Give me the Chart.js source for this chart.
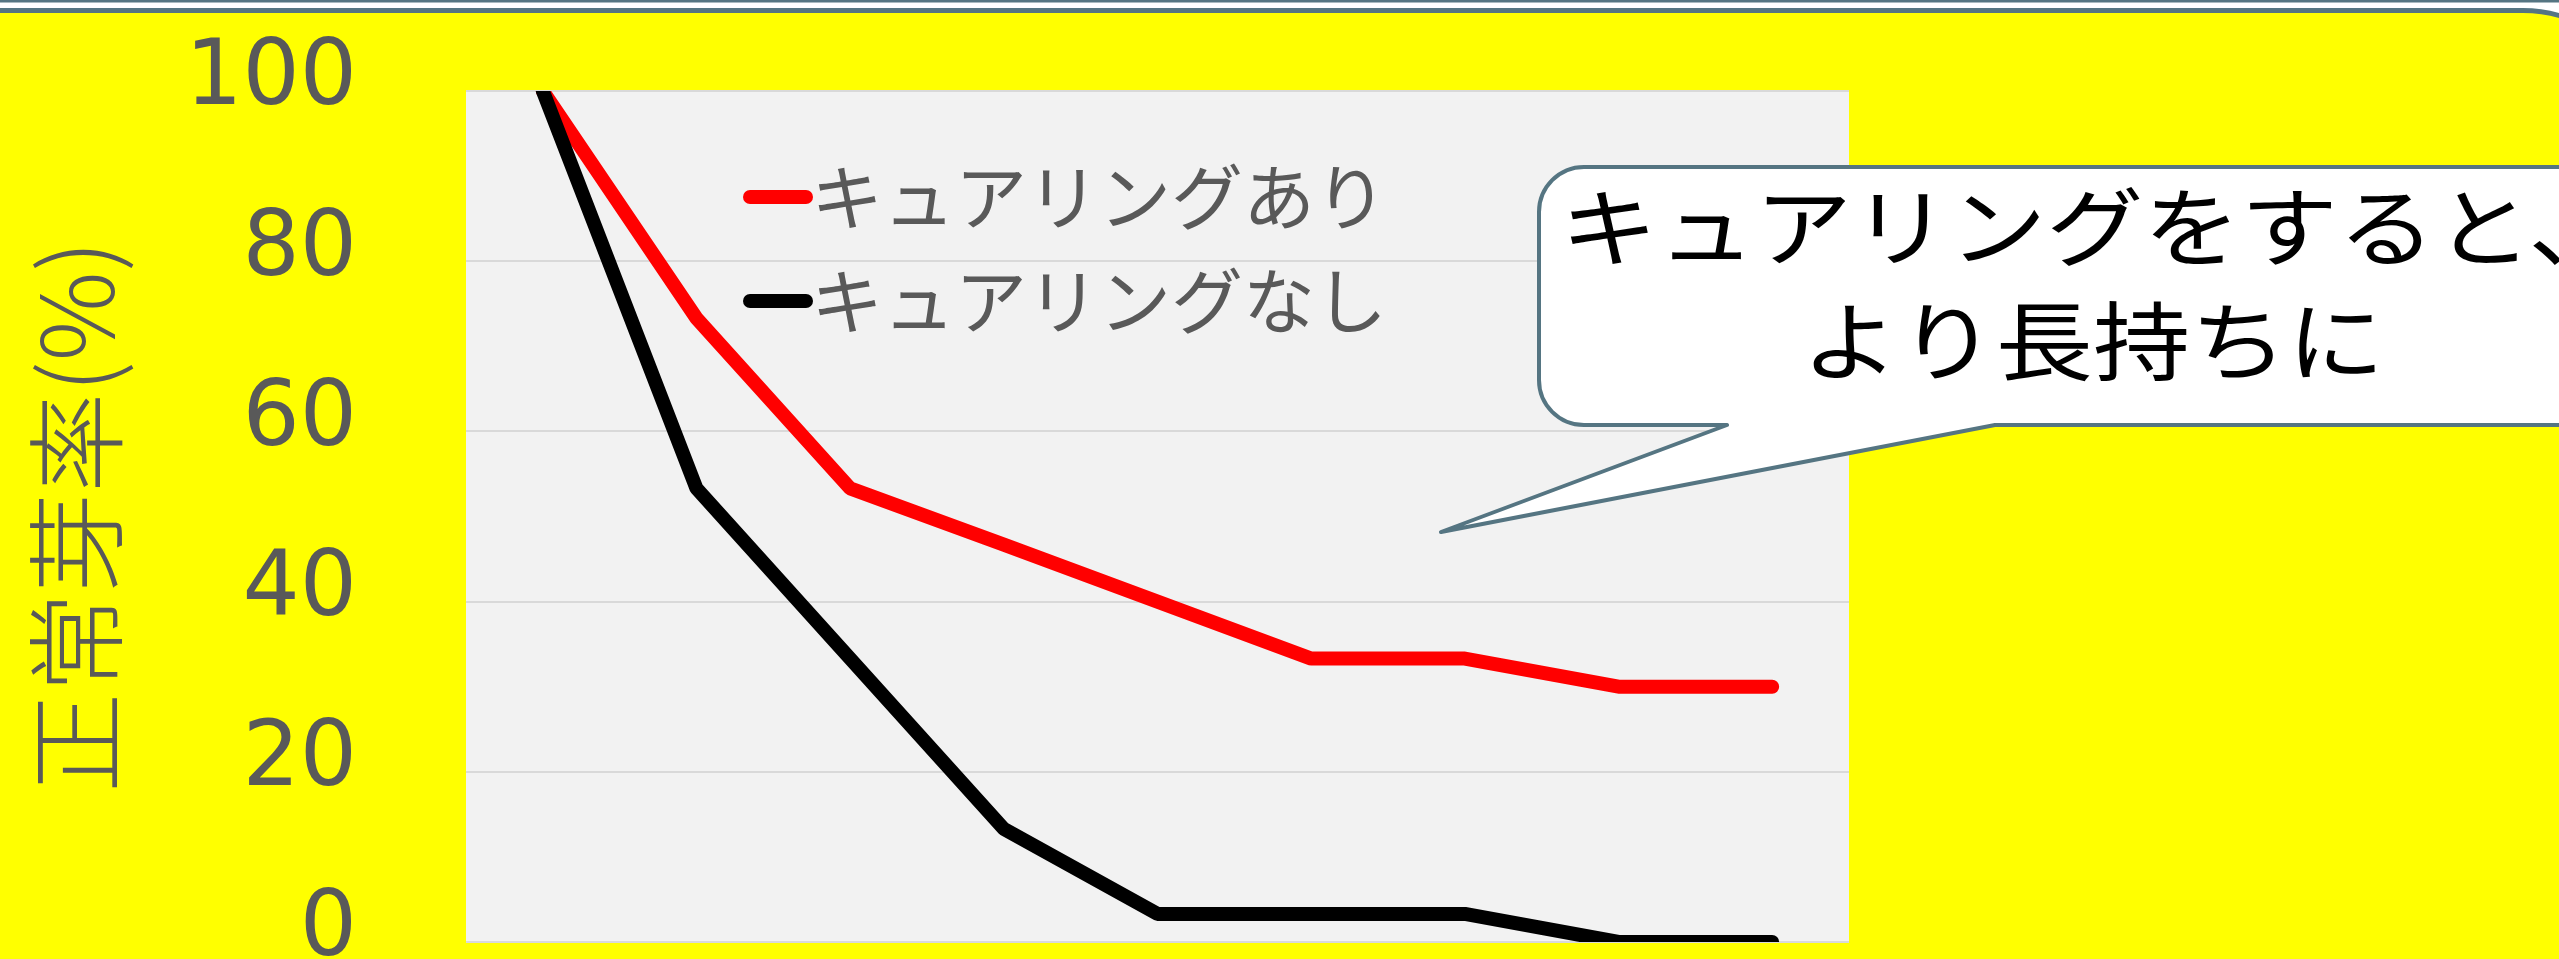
<!DOCTYPE html>
<html lang="ja">
<head>
<meta charset="utf-8">
<title>正常芽率</title>
<script src="https://cdn.jsdelivr.net/npm/chart.js"></script>
<style>
html, body { margin: 0; padding: 0; background: #ffffff; overflow: hidden; }
#wrap { width: 2559px; height: 959px; }
</style>
</head>
<body>
<div id="wrap"><canvas id="rateChart" width="2559" height="959"></canvas></div>
<script>
// values
const CATEGORIES = ['1', '2', '3', '4', '5', '6', '7', '8', '9'];
const CURED_LABEL = 'キュアリングあり';
const CURED_VALUES = [100, 73.3, 53.3, 46.7, 40, 33.3, 33.3, 30, 30];
const UNCURED_LABEL = 'キュアリングなし';
const UNCURED_VALUES = [100, 53.3, 33.3, 13.3, 3.3, 3.3, 3.3, 0, 0];
const Y_TICKS = [0, 20, 40, 60, 80, 100];
const Y_TITLE = '正常芽率(%)';
const NOTE_LINES = ['キュアリングをすると、', 'より長持ちに'];

const SLATE = '#557582';
const GREY_TEXT = '#595959';

function roundedPath(ctx, x, y, w, h, r) {
    ctx.moveTo(x + r, y);
    ctx.lineTo(x + w - r, y);
    ctx.arcTo(x + w, y, x + w, y + r, r);
    ctx.lineTo(x + w, y + h - r);
    ctx.arcTo(x + w, y + h, x + w - r, y + h, r);
    ctx.lineTo(x + r, y + h);
    ctx.arcTo(x, y + h, x, y + h - r, r);
    ctx.lineTo(x, y + r);
    ctx.arcTo(x, y, x + r, y, r);
    ctx.closePath();
}

// page background, yellow panel and grey plot area
const backdrop = {
    id: 'backdrop',
    beforeDraw(chart) {
        const ctx = chart.ctx;
        const a = chart.chartArea;
        ctx.save();
        ctx.fillStyle = '#ffffff';
        ctx.fillRect(0, 0, chart.width, chart.height);
        ctx.fillStyle = SLATE;
        ctx.fillRect(0, 0, chart.width, 2.5);
        ctx.beginPath();
        roundedPath(ctx, -200, 10.5, 2855, 1000, 132);
        ctx.fillStyle = '#ffff00';
        ctx.fill();
        ctx.lineWidth = 5;
        ctx.strokeStyle = SLATE;
        ctx.stroke();
        ctx.fillStyle = '#f2f2f2';
        ctx.fillRect(a.left, a.top, a.right - a.left, a.bottom - a.top);
        ctx.restore();
    }
};

// legend drawn inside the plot, like the original
const insideLegend = {
    id: 'insideLegend',
    afterDatasetsDraw(chart) {
        const ctx = chart.ctx;
        ctx.save();
        chart.data.datasets.forEach((ds, i) => {
            const y = 197 + i * 104;
            ctx.strokeStyle = ds.borderColor;
            ctx.lineWidth = 14;
            ctx.lineCap = 'round';
            ctx.beginPath();
            ctx.moveTo(750, y);
            ctx.lineTo(806, y);
            ctx.stroke();
            ctx.fillStyle = GREY_TEXT;
            ctx.font = '72px "Noto Sans CJK JP"';
            ctx.textBaseline = 'middle';
            ctx.textAlign = 'left';
            ctx.fillText(ds.label, 811, y);
        });
        ctx.restore();
    }
};

// speech bubble
const callout = {
    id: 'callout',
    afterDraw(chart) {
        const ctx = chart.ctx;
        const left = 1539, top = 167, bottom = 425, right = 2700, r = 45;
        ctx.save();
        ctx.beginPath();
        ctx.moveTo(left + r, top);
        ctx.lineTo(right, top);
        ctx.lineTo(right, bottom);
        ctx.lineTo(1995, bottom);
        ctx.lineTo(1441, 532);
        ctx.lineTo(1727, bottom);
        ctx.lineTo(left + r, bottom);
        ctx.arcTo(left, bottom, left, bottom - r, r);
        ctx.lineTo(left, top + r);
        ctx.arcTo(left, top, left + r, top, r);
        ctx.closePath();
        ctx.fillStyle = '#ffffff';
        ctx.fill();
        ctx.lineWidth = 4;
        ctx.lineJoin = 'round';
        ctx.strokeStyle = SLATE;
        ctx.stroke();

        ctx.fillStyle = '#000000';
        ctx.font = '86px "Noto Sans CJK JP"';
        ctx.textAlign = 'center';
        ctx.textBaseline = 'middle';
        NOTE_LINES.forEach((line, i) => {
            ctx.save();
            ctx.translate(2093, 227 + i * 114);
            ctx.scale(1.13, 1);
            ctx.fillText(line, 0, 0);
            ctx.restore();
        });
        ctx.restore();
    }
};

const ctx = document.getElementById('rateChart').getContext('2d');
const chart = new Chart(ctx, {
    type: 'line',
    data: {
        labels: CATEGORIES,
        datasets: [
            {
                label: CURED_LABEL,
                data: CURED_VALUES,
                borderColor: '#ff0000',
                order: 1
            },
            {
                label: UNCURED_LABEL,
                data: UNCURED_VALUES,
                borderColor: '#000000',
                order: 0
            }
        ]
    },
    options: {
        responsive: false,
        animation: false,
        events: [],
        layout: {
            padding: { left: 0, right: 710, top: 91, bottom: 17 }
        },
        elements: {
            line: {
                borderWidth: 14,
                tension: 0,
                fill: false,
                borderCapStyle: 'round',
                borderJoinStyle: 'bevel'
            },
            point: { radius: 0 }
        },
        datasets: {
            line: { clip: 0 }
        },
        plugins: {
            legend: { display: false },
            tooltip: { enabled: false }
        },
        scales: {
            x: {
                display: false,
                offset: true
            },
            y: {
                min: Y_TICKS[0],
                max: Y_TICKS[Y_TICKS.length - 1],
                afterFit(scale) {
                    scale.width = 466;
                    scale.paddingTop = 0;
                    scale.paddingBottom = 0;
                },
                title: {
                    display: true,
                    text: Y_TITLE,
                    color: GREY_TEXT,
                    font: { family: '"Noto Sans CJK JP"', size: 100, weight: '300' },
                    padding: { top: 16, bottom: 0 }
                },
                ticks: {
                    stepSize: Y_TICKS[1] - Y_TICKS[0],
                    color: GREY_TEXT,
                    padding: 109,
                    labelOffset: -10,
                    font: { family: '"DejaVu Sans"', size: 90 }
                },
                grid: {
                    color: '#d9d9d9',
                    lineWidth: 2,
                    drawTicks: false
                },
                border: { display: false }
            }
        }
    },
    plugins: [backdrop, insideLegend, callout]
});
</script>
</body>
</html>
